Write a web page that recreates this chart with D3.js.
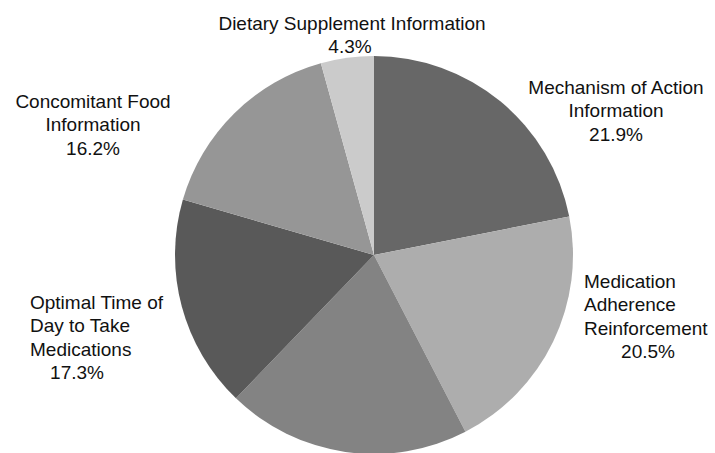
<!DOCTYPE html>
<html>
<head>
<meta charset="utf-8">
<script src="https://cdn.jsdelivr.net/npm/d3@7"></script>
<style>
  body { margin: 0; background: #fff; }
  text { font-family: "Liberation Sans", Arial, sans-serif; font-size: 19px; fill: #111; }
</style>
</head>
<body>
<script>
let width = 715,
    height = 453;

// Slices, clockwise from 12 o'clock
const categories = ["Mechanism of Action Information", "Medication Adherence Reinforcement", "",
    "Optimal Time of Day to Take Medications", "Concomitant Food Information", "Dietary Supplement Information"];
const values = [21.9, 20.5, 19.8, 17.3, 16.2, 4.3];
const fills = ["#676767", "#adadad", "#838383", "#595959", "#969696", "#cbcbcb"];

// label lines as wrapped in the original
const labelLines = [
    ["Mechanism of Action", "Information"],
    ["Medication", "Adherence", "Reinforcement"],
    [],
    ["Optimal Time of", "Day to Take", "Medications"],
    ["Concomitant Food", "Information"],
    ["Dietary Supplement Information"]
];

const cx = 374, cy = 255, radius = 199;

const svg = d3.select("body").append("svg")
    .attr("width", width)
    .attr("height", height);

const pie = d3.pie().sort(null).value(d => d.value);
const arc = d3.arc().innerRadius(0).outerRadius(radius);

const data = values.map((v, i) => ({name: categories[i], value: v, fill: fills[i], lines: labelLines[i]}));

svg.append("g")
    .attr("transform", `translate(${cx},${cy})`)
    .selectAll("path")
    .data(pie(data))
    .enter().append("path")
    .attr("d", arc)
    .attr("fill", d => d.data.fill);

// label placement: [x, first baseline, anchor for name lines, x of percent]
const placement = [
    {x: 616, y: 94, anchor: "middle", px: 616},
    {x: 584, y: 288, anchor: "start", px: 648},
    null,
    {x: 30, y: 309, anchor: "start", px: 77},
    {x: 93, y: 108, anchor: "middle", px: 93},
    {x: 352, y: 30, anchor: "middle", px: 350}
];
const lineH = 23.3;

data.forEach((d, i) => {
    const p = placement[i];
    if (!p) return;
    const g = svg.append("g").attr("class", "label");
    d.lines.forEach((t, j) => {
        g.append("text")
            .attr("x", p.x)
            .attr("y", p.y + j * lineH)
            .attr("text-anchor", p.anchor)
            .text(t);
    });
    g.append("text")
        .attr("x", p.px)
        .attr("y", p.y + d.lines.length * lineH)
        .attr("text-anchor", "middle")
        .text(d3.format(".1f")(d.value) + "%");
});
</script>
</body>
</html>
